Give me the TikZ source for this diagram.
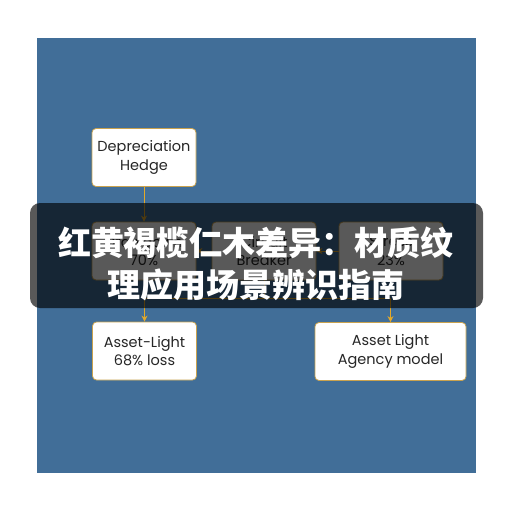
\documentclass[tikz,border=0pt]{standalone}
\usepackage{fontspec}
\setmainfont{Poppins}
\newfontfamily\cjk{Noto Sans CJK SC}
\usetikzlibrary{arrows.meta}
\definecolor{bgblue}{HTML}{416E98}
\definecolor{edgegold}{HTML}{C9A24E}
\definecolor{arrgold}{HTML}{E3A92A}
\tikzset{
  box/.style={draw=edgegold, fill=white, rounded corners=4pt, line width=0.8pt,
    minimum width=104pt, minimum height=58pt, align=center, inner sep=2pt,
    text=black!85, font=\fontsize{14.5}{18.5}\selectfont},
  arr/.style={draw=arrgold, line width=0.9pt, -{Stealth[length=6pt,width=6pt]}}
}
\begin{document}
\begin{tikzpicture}[x=1pt,y=-1pt]
  \useasboundingbox (0,0) rectangle (512,512);
  \fill[white] (0,0) rectangle (512,512);
  \fill[bgblue] (37,38) rectangle (476,473);

  % boxes
  \node[box] (hedge) at (144,157.5) {Depreciation\\Hedge};
  \node[box] (crash) at (144,251) {Drawdown\\70\%};
  \node[box] (breaker) at (264,251) {Circuit\\Breaker};
  \node[box] (stress) at (391,251) {Stress\\23\%};
  \node[box] (light) at (144.5,351) {Asset-Light\\68\% loss};
  \node[box, minimum width=151pt] (agency) at (390.5,351.5) {Asset Light\\Agency model};

  % connectors
  \coordinate (bus) at (264,298);
  \draw[arr] (hedge) -- (crash);
  \draw[arr] (breaker) -- (crash);
  \draw[arr] (stress) -- (breaker);
  \draw[draw=arrgold, line width=0.9pt] (breaker) -- (bus);
  \draw[arr] (bus) -| (light);
  \draw[arr] (bus) -| (agency);

  % overlay banner
  \fill[black, opacity=0.65, rounded corners=10pt] (30,203) rectangle (483,308);
  \node[text=white, font=\cjk\bfseries\fontsize{33}{42}\selectfont, align=center]
    (title) at (256,264) {红黄褐榄仁木差异：材质纹\\理应用场景辨识指南};
\end{tikzpicture}
\end{document}
